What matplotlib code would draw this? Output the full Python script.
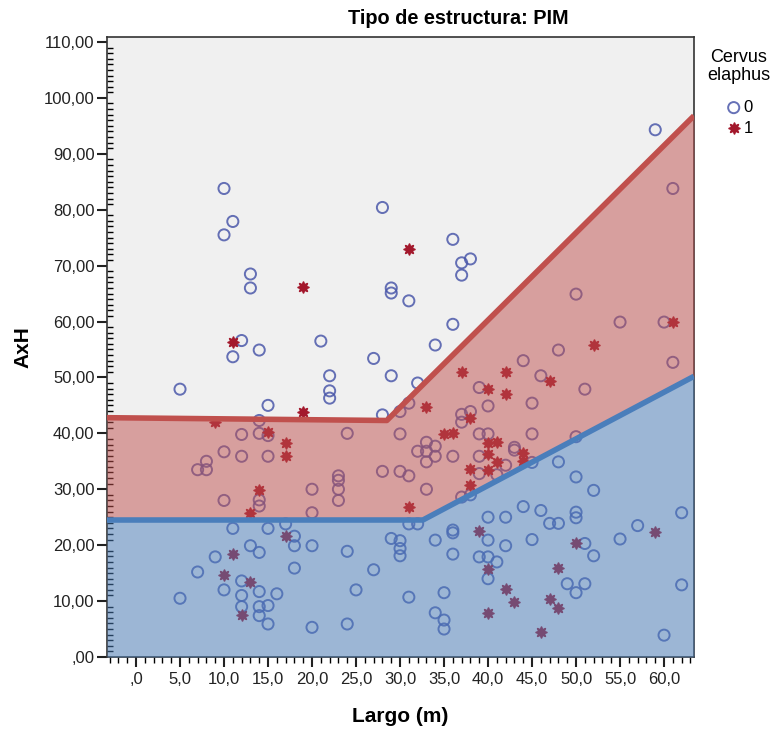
import matplotlib
matplotlib.use("Agg")
import numpy as np
import matplotlib.pyplot as plt
from matplotlib.ticker import MultipleLocator, FuncFormatter

plt.rcParams["font.family"] = ["Liberation Sans", "DejaVu Sans"]

# Cervus elaphus = 0 (circulos)
largo_0 = [59, 61, 10, 11, 10, 28, 13, 13, 36, 37, 38, 37, 29, 29, 31, 36, 34, 27, 29, 32,
           28, 5, 12, 11, 14, 21, 22, 22, 22, 15, 14,
           30, 31, 37, 38, 37, 40, 45, 30, 39, 40, 45, 50, 33, 34, 32, 33, 34, 33, 36,
           39, 43, 43, 42, 39, 41, 45, 28, 30, 31, 33, 37, 38, 12, 14, 15, 24, 10, 12,
           15, 8, 7, 8, 23, 23, 23, 23, 10, 14, 14, 20, 20,
           50, 55, 60, 61, 48, 44, 46, 51, 39,
           48, 50, 52, 44, 46, 50, 50, 47, 48, 40, 42, 31, 32, 36, 36, 45, 55, 57, 62,
           11, 15, 17, 18, 18, 20, 13, 14, 9, 7, 18, 24, 27, 29, 30, 30, 30, 34, 36,
           39, 40, 41, 40, 42, 40, 51, 52, 49, 51, 50, 62, 60, 31, 34, 35, 35, 35, 12,
           10, 12, 12, 14, 14, 14, 15, 15, 16, 5, 20, 24, 25]
axh_0 = [94.3, 83.8, 83.8, 77.9, 75.5, 80.4, 68.5, 66.0, 74.7, 70.5, 71.2, 68.3, 66.0, 65.1,
         63.7, 59.5, 55.8, 53.4, 50.3, 49.0,
         43.3, 47.9, 56.6, 53.7, 54.9, 56.5, 50.3, 47.6, 46.3, 45.0, 42.3,
         43.9, 45.4, 43.4, 43.9, 42.0, 44.9, 45.4, 39.9, 39.9, 39.9, 39.9, 39.4, 38.4,
         37.7, 36.8, 36.8, 35.9, 34.9, 35.9,
         35.9, 37.5, 37.0, 34.3, 32.8, 32.6, 34.8, 33.2, 33.2, 32.4, 30.0, 28.6, 29.0,
         39.8, 40.0, 39.6, 40.0, 36.7, 35.9,
         35.9, 35.0, 33.5, 33.5, 32.4, 31.6, 30.0, 28.0, 28.0, 28.1, 27.0, 30.0, 25.8,
         64.9, 59.9, 59.9, 52.7, 54.9, 53.0, 50.3, 47.9, 48.2,
         34.9, 32.2, 29.8, 26.9, 26.2, 25.9, 24.9, 23.9, 23.9, 25.0, 25.0, 23.8, 23.8,
         22.7, 22.2, 21.0, 21.1, 23.5, 25.8,
         23.0, 23.0, 23.8, 21.6, 19.9, 19.9, 19.9, 18.7, 17.9, 15.2, 15.9, 18.9, 15.6,
         21.2, 20.8, 19.4, 18.1, 20.9, 18.4,
         17.9, 17.9, 17.0, 20.9, 19.9, 14.0, 20.3, 18.1, 13.1, 13.1, 11.5, 12.9, 3.9,
         10.7, 7.9, 6.6, 5.0, 11.5, 13.6,
         12.0, 11.0, 9.0, 11.7, 9.0, 7.4, 9.2, 5.9, 11.3, 10.5, 5.3, 5.9, 12.0]

# Cervus elaphus = 1 (estrellas)
largo_1 = [19, 31, 11, 19, 9, 15, 17, 17, 14, 13, 17, 11, 10, 13, 12, 33, 35, 36, 37, 38,
           40, 42, 42, 47, 52, 61, 40, 41, 40, 44, 44, 41, 38, 40, 38, 31, 39, 40, 40,
           42, 43, 46, 47, 48, 48, 50, 59]
axh_1 = [66.2, 73.0, 56.4, 43.9, 42.0, 40.3, 38.3, 35.9, 29.9, 25.8, 21.6, 18.4, 14.7,
         13.4, 7.5, 44.7, 39.8, 40.0, 50.9, 42.8, 47.9, 50.9, 47.0, 49.4, 55.8, 59.9,
         38.2, 38.4, 36.3, 36.4, 35.1, 34.8, 33.7, 33.5, 30.8, 26.9, 22.5, 15.7, 7.9,
         12.2, 9.9, 4.5, 10.4, 8.7, 16.0, 20.3, 22.4]

# lineas de ajuste (vertices)
red_x = [-3.3, 28.5, 63.4]
red_y = [42.8, 42.3, 96.8]
blue_x = [-3.3, 32.6, 63.4]
blue_y = [24.5, 24.5, 50.2]

XMIN, XMAX = -3.3, 63.4
YMIN, YMAX = 0, 110.9

RED = "#c0504d"
BLUE = "#4a7ebb"


def fmt_y(v, pos):
    s = f"{v:.2f}".replace(".", ",")
    return s[1:] if s.startswith("0") else s


def fmt_x(v, pos):
    s = f"{v:.1f}".replace(".", ",")
    return s[1:] if s.startswith("0") else s


def main():
    fig = plt.figure(figsize=(7.78, 7.29), dpi=100)
    ax = fig.add_axes([0.1375, 0.0988, 0.7545, 0.8505])
    ax.set_facecolor("#f0f0f0")

    # puntos (debajo de las zonas sombreadas)
    ax.scatter(largo_0, axh_0, s=64, facecolors="none", edgecolors="#4b58aa",
               linewidths=1.4, alpha=0.85, zorder=2, label="0")
    ax.scatter(largo_1, axh_1, s=60, marker=(8, 1, 0), color="#a3182c",
               edgecolors="#a3182c", linewidths=1.3, zorder=2, label="1")

    # zonas sombreadas
    xs = sorted(set(red_x + blue_x))
    ry = np.interp(xs, red_x, red_y)
    by = np.interp(xs, blue_x, blue_y)
    ax.fill_between(xs, 0, by, color=BLUE, alpha=0.5, linewidth=0, zorder=3)
    ax.fill_between(xs, by, ry, color=RED, alpha=0.5, linewidth=0, zorder=3)

    ax.plot(red_x, red_y, color=RED, linewidth=4, solid_capstyle="butt", zorder=4)
    ax.plot(blue_x, blue_y, color=BLUE, linewidth=4, solid_capstyle="butt", zorder=4)

    ax.set_xlim(XMIN, XMAX)
    ax.set_ylim(YMIN, YMAX)

    ax.xaxis.set_major_locator(MultipleLocator(5))
    ax.xaxis.set_minor_locator(MultipleLocator(1))
    ax.yaxis.set_major_locator(MultipleLocator(10))
    ax.yaxis.set_minor_locator(MultipleLocator(1))
    ax.xaxis.set_major_formatter(FuncFormatter(fmt_x))
    ax.yaxis.set_major_formatter(FuncFormatter(fmt_y))

    ax.tick_params(axis="both", which="major", labelsize=12, length=7, width=1.5,
                   colors="#222222", direction="out")
    ax.tick_params(axis="x", which="minor", length=4, width=1, direction="out")
    ax.tick_params(axis="y", which="minor", length=4, width=1, direction="in")
    ax.tick_params(axis="x", which="major", pad=4)
    ax.tick_params(axis="y", which="major", pad=2)

    for sp in ax.spines.values():
        sp.set_color("#333333")
        sp.set_linewidth(1.2)

    fig.text(458 / 778, 1 - 18 / 729, "Tipo de estructura: PIM", fontsize=14.3,
             fontweight="bold", ha="center", va="center")
    ax.set_xlabel("Largo (m)", fontsize=15, fontweight="bold", labelpad=14)
    ax.set_ylabel("AxH", fontsize=15, fontweight="bold", labelpad=8)

    # leyenda
    fig.text(739 / 778, 1 - 49 / 729, "Cervus\nelaphus", fontsize=13, ha="center",
             va="top", linespacing=1.1)
    fig.legend(loc="upper center", bbox_to_anchor=(740 / 778, 1 - 100 / 729),
               frameon=False, fontsize=12, handlelength=0.8, handletextpad=0.2,
               labelspacing=0.35, borderaxespad=0, borderpad=0)

    fig.savefig("out.png", dpi=100)


if __name__ == "__main__":
    main()
